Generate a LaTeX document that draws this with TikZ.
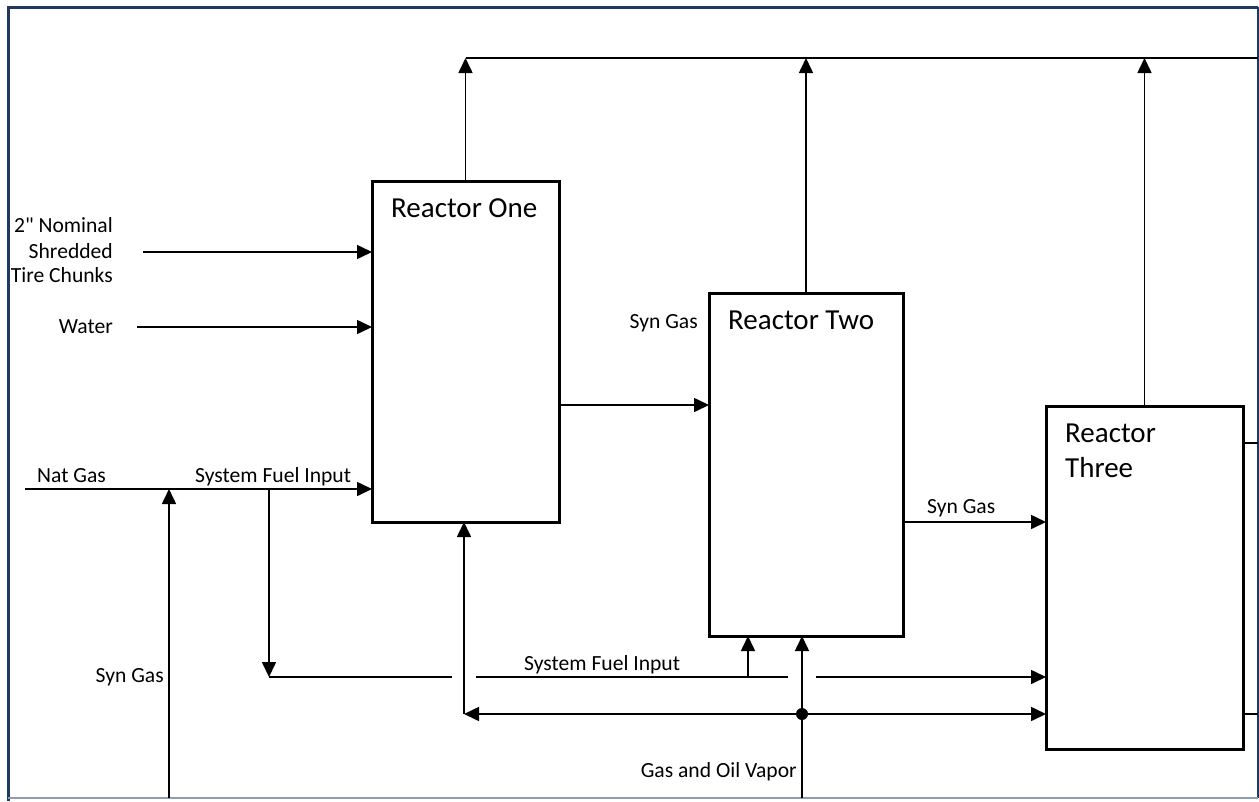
\documentclass[tikz,border=0pt]{standalone}
\usepackage{fontspec}
\setmainfont{Carlito}[Ligatures=TeXOff]
\usetikzlibrary{arrows.meta,calc}
\definecolor{navy}{HTML}{1F3864}
\begin{document}
\begin{tikzpicture}[x=1pt,y=-1pt,
  box/.style={draw,line width=3pt,rectangle,inner sep=0pt,outer sep=0pt},
  conn/.style={line width=1.6pt},
  arr/.style={conn,-{Triangle[length=15pt,width=14pt]}},
  lbl/.style={inner sep=0pt,font=\fontsize{21.6}{25.5}\selectfont},
  rlbl/.style={inner sep=0pt,font=\fontsize{29}{35}\selectfont}]
\useasboundingbox (0,0) rectangle (1259,801);
% frame
\draw[navy,line width=3pt] (8,801) -- (8,7) -- (1258,7);
\draw[navy,line width=1.2pt] (1258,7) -- (1258,798);
\draw[navy!50,line width=1.2pt] (1258,798) -- (8,798);

% reactors
\node[box,minimum width=187pt,minimum height=341pt] (r1) at (465.5,351.5) {};
\node[box,minimum width=194pt,minimum height=343pt] (r2) at (806,464.5) {};
\node[box,minimum width=197pt,minimum height=343pt] (r3) at (1144.5,577.5) {};
\node[rlbl,anchor=base west] (t1) at (391,217) {Reactor One};
\node[rlbl,anchor=base west] (t2) at (728,329) {Reactor Two};
\node[rlbl,anchor=base west] (t3a) at (1065,442.7) {Reactor};
\node[rlbl,anchor=base west] (t3b) at (1065,477.7) {Three};

% labels
\node[lbl,anchor=base east] (l1) at (113,232.3) {2" Nominal};
\node[lbl,anchor=base east] (l2) at (113,258.3) {Shredded};
\node[lbl,anchor=base east] (l3) at (113,282.7) {Tire Chunks};
\node[lbl,anchor=base east] (lw) at (113,333.3) {Water};
\node[lbl,anchor=base west] (ln) at (37,482) {Nat Gas};
\node[lbl,anchor=base west] (lsf1) at (195,482) {System Fuel Input};
\node[lbl,anchor=base east] (ls1) at (164,682) {Syn Gas};
\node[lbl,anchor=base west] (lsf2) at (524,670) {System Fuel Input};
\node[lbl,anchor=base east] (lgo) at (797,777) {Gas and Oil Vapor};
\node[lbl,anchor=base east] (ls2) at (698,328.5) {Syn Gas};
\node[lbl,anchor=base west] (ls3) at (927,513) {Syn Gas};

% coordinates
\coordinate (tireS) at (143,252);
\coordinate (waterS) at (137,327);
\coordinate (natS) at (25,489);
\coordinate (synJ) at (169,489);
\coordinate (synS) at (169,798);
\coordinate (splitJ) at (269,489);
\coordinate (sfDown) at (269,677);
\coordinate (gapA1) at (452,677);
\coordinate (gapA2) at (476,677);
\coordinate (gapB1) at (788,677);
\coordinate (gapB2) at (816,677);
\coordinate (sf2) at (748,677);
\coordinate (c464) at (464,714);
\coordinate (gov) at (802,714);
\coordinate (govS) at (802,798);
\coordinate (m12) at (560,405);
\coordinate (m23) at (904,522);
\coordinate (topR) at (1258,58);
\coordinate (st1) at (1258,443);
\coordinate (st2) at (1258,714);

% inputs to reactor one
\draw[arr] (tireS) -- (tireS -| r1.west);
\draw[arr] (waterS) -- (waterS -| r1.west);
\draw[arr] (natS) -- (natS -| r1.west);
\draw[arr] (synS) -- (synJ);
\draw[arr] (splitJ) -- (sfDown);
\draw[conn] (sfDown) -- (gapA1);
\draw[conn] (gapA2) -- (gapB1);
\draw[arr] (gapB2) -- (gapB2 -| r3.west);
\draw[arr] (sf2) -- (sf2 |- r2.south);

% gas and oil vapor
\draw[conn] (govS) -- (gov);
\fill (gov) circle (6pt);
\draw[arr] (gov) -- (c464);
\draw[arr] (c464) -- (c464 |- r1.south);
\draw[arr] (gov) -- (gov |- r2.south);
\draw[arr] (gov) -- (gov -| r3.west);

% reactor to reactor
\draw[arr] (r1.east |- m12) -- (r2.west |- m12);
\draw[arr] (m23) -- (m23 -| r3.west);

% top collector
\draw[conn] (r1.north |- topR) -- (topR);
\draw[arr] (r1.north) -- (r1.north |- topR);
\draw[arr] (r2.north) -- (r2.north |- topR);
\draw[arr] (r3.north) -- (r3.north |- topR);

% stubs to the right
\draw[conn] (r3.east |- st1) -- (st1);
\draw[conn] (r3.east |- st2) -- (st2);
\end{tikzpicture}
\end{document}
